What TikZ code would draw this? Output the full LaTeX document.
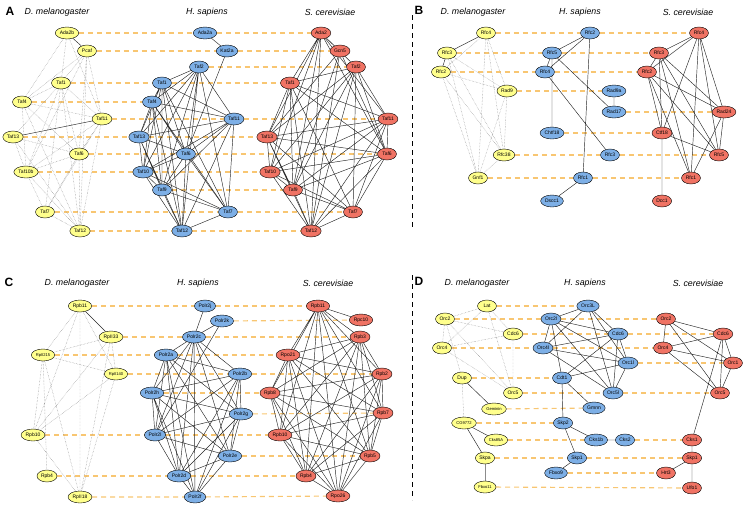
\documentclass[tikz,border=0pt]{standalone}
\usepackage{fontspec}
\setsansfont{Liberation Sans}
\usetikzlibrary{shapes.geometric, backgrounds}

\definecolor{flyfill}{RGB}{255,255,140}
\definecolor{hsfill}{RGB}{125,175,230}
\definecolor{scfill}{RGB}{240,115,100}
\definecolor{orthoclr}{RGB}{248,198,114}

\begin{document}
\begin{tikzpicture}[x=1pt, y=-1pt,
    prot/.style={draw, ellipse, line width=0.4pt, inner sep=1.1pt,
                 minimum width=19pt, minimum height=12pt,
                 font=\fontsize{5}{5.5}\selectfont\sffamily},
    fly/.style={prot, fill=flyfill},
    hs/.style={prot, fill=hsfill},
    sc/.style={prot, fill=scfill},
    small/.style={font=\fontsize{4.1}{4.5}\selectfont\sffamily},
    ppi/.style={line width=0.45pt, black!85},
    weak/.style={densely dotted, line width=0.45pt, black!45},
    ortho/.style={draw=orthoclr, line width=1.15pt, dash pattern=on 5pt off 4pt},
    species/.style={font=\fontsize{8.8}{10}\selectfont\sffamily\itshape},
    panel/.style={font=\fontsize{12}{14}\selectfont\sffamily\bfseries},
    sep/.style={line width=0.8pt, dash pattern=on 5pt off 4pt},
]
\useasboundingbox (0,0) rectangle (748,507);

% --- Panel A: titles ---
\node[panel] (labA) at (10,11) {A};
\node[species] (titAdm) at (57,12) {D. melanogaster};
\node[species] (titAhs) at (207,12) {H. sapiens};
\node[species] (titAsc) at (330,12) {S. cerevisiae};

% --- Panel A: nodes ---
\node[fly] (dmAda2b) at (67,33) {Ada2b};
\node[fly] (dmPcaf) at (87,51) {Pcaf};
\node[fly] (dmTaf1) at (61,83) {Taf1};
\node[fly] (dmTaf4) at (22,102) {Taf4};
\node[fly] (dmTaf11) at (102,119) {Taf11};
\node[fly] (dmTaf13) at (13,137) {Taf13};
\node[fly] (dmTaf6) at (79,154) {Taf6};
\node[fly] (dmTaf10b) at (26,172) {Taf10b};
\node[fly] (dmTaf7) at (45,212) {Taf7};
\node[fly] (dmTaf12) at (80,231) {Taf12};

\node[hs] (hsAda2a) at (205,33) {Ada2a};
\node[hs] (hsKat2a) at (227,51) {Kat2a};
\node[hs] (hsTaf2) at (199,67) {Taf2};
\node[hs] (hsTaf1) at (162,83) {Taf1};
\node[hs] (hsTaf4) at (152,102) {Taf4};
\node[hs] (hsTaf11) at (234,119) {Taf11};
\node[hs] (hsTaf13) at (139,137) {Taf13};
\node[hs] (hsTaf6) at (186,154) {Taf6};
\node[hs] (hsTaf10) at (143,172) {Taf10};
\node[hs] (hsTaf9) at (162,190) {Taf9};
\node[hs] (hsTaf7) at (228,212) {Taf7};
\node[hs] (hsTaf12) at (182,231) {Taf12};

\node[sc] (scAda2) at (321,33) {Ada2};
\node[sc] (scGcn5) at (340,51) {Gcn5};
\node[sc] (scTaf2) at (356,67) {Taf2};
\node[sc] (scTaf1) at (290,83) {Taf1};
\node[sc] (scTaf11) at (388,119) {Taf11};
\node[sc] (scTaf13) at (267,137) {Taf13};
\node[sc] (scTaf6) at (387,154) {Taf6};
\node[sc] (scTaf10) at (270,172) {Taf10};
\node[sc] (scTaf9) at (293,190) {Taf9};
\node[sc] (scTaf7) at (353,212) {Taf7};
\node[sc] (scTaf12) at (311,231) {Taf12};

% --- Panel B: titles ---
\node[panel] (labB) at (419,10) {B};
\node[species] (titBdm) at (473,12) {D. melanogaster};
\node[species] (titBhs) at (580,12) {H. sapiens};
\node[species] (titBsc) at (688,12) {S. cerevisiae};

% --- Panel B: nodes ---
\node[fly] (dmRfc4) at (486,33) {Rfc4};
\node[fly] (dmRfc3) at (447,53) {Rfc3};
\node[fly] (dmRfc2) at (441,72) {Rfc2};
\node[fly] (dmRad9) at (507,91) {Rad9};
\node[fly] (dmRfc38) at (504,155) {Rfc38};
\node[fly] (dmGnf1) at (478,178) {Gnf1};

\node[hs] (hsRfc2) at (590,33) {Rfc2};
\node[hs] (hsRfc5) at (552,53) {Rfc5};
\node[hs] (hsRfc4) at (545,72) {Rfc4};
\node[hs] (hsRad9a) at (614,91) {Rad9a};
\node[hs] (hsRad17) at (614,112) {Rad17};
\node[hs] (hsChtf18) at (552,133) {Chtf18};
\node[hs] (hsRfc3) at (610,155) {Rfc3};
\node[hs] (hsRfc1) at (583,178) {Rfc1};
\node[hs] (hsDscc1) at (552,201) {Dscc1};

\node[sc] (scRfc4) at (699,33) {Rfc4};
\node[sc] (scRfc3) at (659,53) {Rfc3};
\node[sc] (scRfc2) at (647,72) {Rfc2};
\node[sc] (scRad24) at (724,112) {Rad24};
\node[sc] (scCtf18) at (662,133) {Ctf18};
\node[sc] (scRfc5) at (719,155) {Rfc5};
\node[sc] (scRfc1) at (691,178) {Rfc1};
\node[sc] (scDcc1) at (662,201) {Dcc1};

% --- Panel C: titles ---
\node[panel] (labC) at (9,282) {C};
\node[species] (titCdm) at (77,283) {D. melanogaster};
\node[species] (titChs) at (198,283) {H. sapiens};
\node[species] (titCsc) at (328,283) {S. cerevisiae};

% --- Panel C: nodes ---
\node[fly] (dmRpb11) at (80,306) {Rpb11};
\node[fly] (dmRpII33) at (111,337) {RpII33};
\node[fly, small] (dmRpII215) at (43,355) {RpII215};
\node[fly, small] (dmRpII140) at (116,374) {RpII140};
\node[fly] (dmRpb10) at (33,435) {Rpb10};
\node[fly] (dmRpb4) at (47,476) {Rpb4};
\node[fly] (dmRpII18) at (80,497) {RpII18};

\node[hs] (hsPolr2j) at (205,306) {Polr2j};
\node[hs] (hsPolr2k) at (222,321) {Polr2k};
\node[hs] (hsPolr2c) at (194,337) {Polr2c};
\node[hs] (hsPolr2a) at (166,355) {Polr2a};
\node[hs] (hsPolr2b) at (240,374) {Polr2b};
\node[hs] (hsPolr2h) at (152,393) {Polr2h};
\node[hs] (hsPolr2g) at (241,414) {Polr2g};
\node[hs] (hsPolr2l) at (155,435) {Polr2l};
\node[hs] (hsPolr2e) at (230,456) {Polr2e};
\node[hs] (hsPolr2d) at (179,476) {Polr2d};
\node[hs] (hsPolr2f) at (195,497) {Polr2f};

\node[sc] (scRpb11) at (318,306) {Rpb11};
\node[sc] (scRpc10) at (361,320) {Rpc10};
\node[sc] (scRpb3) at (360,337) {Rpb3};
\node[sc] (scRpo21) at (288,355) {Rpo21};
\node[sc] (scRpb2) at (382,374) {Rpb2};
\node[sc] (scRpb8) at (270,393) {Rpb8};
\node[sc] (scRpb7) at (383,413) {Rpb7};
\node[sc] (scRpb10) at (280,435) {Rpb10};
\node[sc] (scRpb5) at (370,456) {Rpb5};
\node[sc] (scRpb4) at (306,476) {Rpb4};
\node[sc] (scRpo26) at (338,496) {Rpo26};

% --- Panel D: titles ---
\node[panel] (labD) at (419,281) {D};
\node[species] (titDdm) at (477,283) {D. melanogaster};
\node[species] (titDhs) at (585,283) {H. sapiens};
\node[species] (titDsc) at (698,283) {S. cerevisiae};

% --- Panel D: nodes ---
\node[fly] (dmLat) at (487,306) {Lat};
\node[fly] (dmOrc2) at (445,319) {Orc2};
\node[fly] (dmCdc6) at (513,334) {Cdc6};
\node[fly] (dmOrc4) at (442,348) {Orc4};
\node[fly] (dmDup) at (462,378) {Dup};
\node[fly] (dmOrc5) at (513,393) {Orc5};
\node[fly, small] (dmGeminin) at (494,409) {Geminin};
\node[fly, small] (dmCG9772) at (464,423) {CG9772};
\node[fly, small] (dmCks85A) at (496,440) {Cks85A};
\node[fly] (dmSkpa) at (485,458) {Skpa};
\node[fly, small] (dmFbxo11) at (485,487) {Fbxo11};

\node[hs] (hsOrc3L) at (588,306) {Orc3L};
\node[hs] (hsOrc2l) at (551,319) {Orc2l};
\node[hs] (hsCdc6) at (618,334) {Cdc6};
\node[hs] (hsOrc4l) at (543,348) {Orc4l};
\node[hs] (hsOrc1l) at (628,363) {Orc1l};
\node[hs] (hsCdt1) at (562,378) {Cdt1};
\node[hs] (hsOrc5l) at (613,393) {Orc5l};
\node[hs] (hsGmnn) at (594,408) {Gmnn};
\node[hs] (hsSkp2) at (563,423) {Skp2};
\node[hs] (hsCks1b) at (596,440) {Cks1b};
\node[hs] (hsCks2) at (625,440) {Cks2};
\node[hs] (hsSkp1) at (577,458) {Skp1};
\node[hs] (hsFbxo9) at (556,473) {Fbxo9};

\node[sc] (scOrc2) at (666,319) {Orc2};
\node[sc] (scCdc6) at (723,334) {Cdc6};
\node[sc] (scOrc4) at (663,348) {Orc4};
\node[sc] (scOrc1) at (733,363) {Orc1};
\node[sc] (scOrc5) at (720,393) {Orc5};
\node[sc] (scCks1) at (692,440) {Cks1};
\node[sc] (scSkp1) at (692,458) {Skp1};
\node[sc] (scHrt3) at (666,473) {Hrt3};
\node[sc] (scUfo1) at (692,488) {Ufo1};

% --- Separators ---
\coordinate (sepTop1) at (412,15);
\coordinate (sepTop2) at (412,228);
\coordinate (sepBot1) at (412,275);
\coordinate (sepBot2) at (412,500);
\draw[sep] (sepTop1) -- (sepTop2);
\draw[sep] (sepBot1) -- (sepBot2);

\begin{pgfonlayer}{background}
% --- Orthologue rows ---
\draw[ortho] (dmAda2b) -- (hsAda2a) -- (scAda2);
\draw[ortho] (dmPcaf) -- (hsKat2a) -- (scGcn5);
\draw[ortho] (hsTaf2) -- (scTaf2);
\draw[ortho] (dmTaf1) -- (hsTaf1) -- (scTaf1);
\draw[ortho] (dmTaf4) -- (hsTaf4);
\draw[ortho] (dmTaf11) -- (hsTaf11) -- (scTaf11);
\draw[ortho] (dmTaf13) -- (hsTaf13) -- (scTaf13);
\draw[ortho] (dmTaf6) -- (hsTaf6) -- (scTaf6);
\draw[ortho] (dmTaf10b) -- (hsTaf10) -- (scTaf10);
\draw[ortho] (hsTaf9) -- (scTaf9);
\draw[ortho] (dmTaf7) -- (hsTaf7) -- (scTaf7);
\draw[ortho] (dmTaf12) -- (hsTaf12) -- (scTaf12);

\draw[ortho] (dmRfc4) -- (hsRfc2) -- (scRfc4);
\draw[ortho] (dmRfc3) -- (hsRfc5) -- (scRfc3);
\draw[ortho] (dmRfc2) -- (hsRfc4) -- (scRfc2);
\draw[ortho] (dmRad9) -- (hsRad9a);
\draw[ortho] (hsRad17) -- (scRad24);
\draw[ortho] (hsChtf18) -- (scCtf18);
\draw[ortho] (dmRfc38) -- (hsRfc3) -- (scRfc5);
\draw[ortho] (dmGnf1) -- (hsRfc1) -- (scRfc1);

\draw[ortho] (dmRpb11) -- (hsPolr2j) -- (scRpb11);
\draw[ortho] (hsPolr2k) -- (scRpc10);
\draw[ortho] (dmRpII33) -- (hsPolr2c) -- (scRpb3);
\draw[ortho] (dmRpII215) -- (hsPolr2a) -- (scRpo21);
\draw[ortho] (dmRpII140) -- (hsPolr2b) -- (scRpb2);
\draw[ortho] (hsPolr2h) -- (scRpb8);
\draw[ortho] (hsPolr2g) -- (scRpb7);
\draw[ortho] (dmRpb10) -- (hsPolr2l) -- (scRpb10);
\draw[ortho] (hsPolr2e) -- (scRpb5);
\draw[ortho] (dmRpb4) -- (hsPolr2d) -- (scRpb4);
\draw[ortho] (dmRpII18) -- (hsPolr2f) -- (scRpo26);

\draw[ortho] (dmLat) -- (hsOrc3L);
\draw[ortho] (dmOrc2) -- (hsOrc2l) -- (scOrc2);
\draw[ortho] (dmCdc6) -- (hsCdc6) -- (scCdc6);
\draw[ortho] (dmOrc4) -- (hsOrc4l) -- (scOrc4);
\draw[ortho] (hsOrc1l) -- (scOrc1);
\draw[ortho] (dmDup) -- (hsCdt1);
\draw[ortho] (dmOrc5) -- (hsOrc5l) -- (scOrc5);
\draw[ortho] (dmGeminin) -- (hsGmnn);
\draw[ortho] (dmCG9772) -- (hsSkp2);
\draw[ortho] (dmCks85A) -- (hsCks1b);
\draw[ortho] (hsCks2) -- (scCks1);
\draw[ortho] (dmSkpa) -- (hsSkp1) -- (scSkp1);
\draw[ortho] (hsFbxo9) -- (scHrt3);
\draw[ortho] (dmFbxo11) -- (scUfo1);

% --- A: fly interactions ---
\draw[weak] (dmAda2b) -- (dmTaf4) (dmAda2b) -- (dmTaf1) (dmAda2b) -- (dmTaf11);
\draw[weak] (dmPcaf) -- (dmTaf4) (dmPcaf) -- (dmTaf1) (dmPcaf) -- (dmTaf6)
    (dmPcaf) -- (dmTaf12) (dmPcaf) -- (dmTaf10b) (dmPcaf) -- (dmTaf11);
\draw[weak] (dmTaf1) -- (dmTaf4) (dmTaf1) -- (dmTaf11) (dmTaf1) -- (dmTaf13)
    (dmTaf1) -- (dmTaf10b) (dmTaf1) -- (dmTaf6) (dmTaf1) -- (dmTaf12) (dmTaf1) -- (dmTaf7);
\draw[weak] (dmTaf4) -- (dmTaf11) (dmTaf4) -- (dmTaf6) (dmTaf4) -- (dmTaf10b) (dmTaf4) -- (dmTaf12);
\draw[weak] (dmTaf11) -- (dmTaf10b) (dmTaf11) -- (dmTaf12) (dmTaf11) -- (dmTaf7) (dmTaf11) -- (dmTaf6);
\draw[weak] (dmTaf13) -- (dmTaf6) (dmTaf13) -- (dmTaf10b) (dmTaf13) -- (dmTaf12);
\draw[weak] (dmTaf6) -- (dmTaf10b) (dmTaf6) -- (dmTaf12) (dmTaf6) -- (dmTaf7);
\draw[weak] (dmTaf10b) -- (dmTaf7) (dmTaf10b) -- (dmTaf12) (dmTaf7) -- (dmTaf12);
\draw[ppi] (dmAda2b) -- (dmPcaf) (dmTaf13) -- (dmTaf11);

% --- A: human interactions ---
\draw[ppi] (hsAda2a) -- (hsKat2a) (hsKat2a) -- (hsTaf6);
\draw[ppi] (hsTaf2) -- (hsTaf1) (hsTaf2) -- (hsTaf4) (hsTaf2) -- (hsTaf11) (hsTaf2) -- (hsTaf13)
    (hsTaf2) -- (hsTaf6) (hsTaf2) -- (hsTaf10) (hsTaf2) -- (hsTaf9) (hsTaf2) -- (hsTaf7) (hsTaf2) -- (hsTaf12);
\draw[ppi] (hsTaf1) -- (hsTaf4) (hsTaf1) -- (hsTaf11) (hsTaf1) -- (hsTaf13) (hsTaf1) -- (hsTaf6)
    (hsTaf1) -- (hsTaf10) (hsTaf1) -- (hsTaf9) (hsTaf1) -- (hsTaf7) (hsTaf1) -- (hsTaf12);
\draw[ppi] (hsTaf4) -- (hsTaf11) (hsTaf4) -- (hsTaf13) (hsTaf4) -- (hsTaf6) (hsTaf4) -- (hsTaf10)
    (hsTaf4) -- (hsTaf9) (hsTaf4) -- (hsTaf7) (hsTaf4) -- (hsTaf12);
\draw[ppi] (hsTaf11) -- (hsTaf13) (hsTaf11) -- (hsTaf6) (hsTaf11) -- (hsTaf10) (hsTaf11) -- (hsTaf9)
    (hsTaf11) -- (hsTaf7) (hsTaf11) -- (hsTaf12);
\draw[ppi] (hsTaf13) -- (hsTaf6) (hsTaf13) -- (hsTaf10) (hsTaf13) -- (hsTaf9) (hsTaf13) -- (hsTaf12);
\draw[ppi] (hsTaf6) -- (hsTaf10) (hsTaf6) -- (hsTaf9) (hsTaf6) -- (hsTaf7) (hsTaf6) -- (hsTaf12);
\draw[ppi] (hsTaf10) -- (hsTaf9) (hsTaf10) -- (hsTaf7) (hsTaf10) -- (hsTaf12)
    (hsTaf9) -- (hsTaf7) (hsTaf9) -- (hsTaf12) (hsTaf7) -- (hsTaf12);

% --- A: yeast interactions ---
\draw[ppi] (scAda2) -- (scGcn5) (scAda2) -- (scTaf1) (scAda2) -- (scTaf13) (scAda2) -- (scTaf10)
    (scAda2) -- (scTaf9) (scAda2) -- (scTaf12) (scAda2) -- (scTaf6) (scAda2) -- (scTaf11) (scAda2) -- (scTaf2);
\draw[ppi] (scGcn5) -- (scTaf9) (scGcn5) -- (scTaf12) (scGcn5) -- (scTaf13) (scGcn5) -- (scTaf6);
\draw[ppi] (scTaf2) -- (scTaf1) (scTaf2) -- (scTaf11) (scTaf2) -- (scTaf13) (scTaf2) -- (scTaf6)
    (scTaf2) -- (scTaf10) (scTaf2) -- (scTaf9) (scTaf2) -- (scTaf7) (scTaf2) -- (scTaf12);
\draw[ppi] (scTaf1) -- (scTaf11) (scTaf1) -- (scTaf13) (scTaf1) -- (scTaf6) (scTaf1) -- (scTaf10)
    (scTaf1) -- (scTaf9) (scTaf1) -- (scTaf7) (scTaf1) -- (scTaf12);
\draw[ppi] (scTaf11) -- (scTaf13) (scTaf11) -- (scTaf6) (scTaf11) -- (scTaf10) (scTaf11) -- (scTaf9)
    (scTaf11) -- (scTaf7) (scTaf11) -- (scTaf12);
\draw[ppi] (scTaf13) -- (scTaf6) (scTaf13) -- (scTaf10) (scTaf13) -- (scTaf9) (scTaf13) -- (scTaf7)
    (scTaf13) -- (scTaf12);
\draw[ppi] (scTaf6) -- (scTaf10) (scTaf6) -- (scTaf9) (scTaf6) -- (scTaf7) (scTaf6) -- (scTaf12);
\draw[ppi] (scTaf10) -- (scTaf9) (scTaf10) -- (scTaf7) (scTaf10) -- (scTaf12)
    (scTaf9) -- (scTaf7) (scTaf9) -- (scTaf12) (scTaf7) -- (scTaf12);

% --- B: interactions ---
\draw[ppi] (dmRfc4) -- (dmRfc3) (dmRfc3) -- (dmRfc2);
\draw[weak] (dmRfc4) -- (dmRfc2) (dmRfc4) -- (dmRad9) (dmRfc4) -- (dmRfc38) (dmRfc4) -- (dmGnf1)
    (dmRfc3) -- (dmRad9) (dmRfc3) -- (dmRfc38) (dmRfc3) -- (dmGnf1)
    (dmRfc2) -- (dmRad9) (dmRfc2) -- (dmRfc38) (dmRfc2) -- (dmGnf1)
    (dmRad9) -- (dmRfc38) (dmRad9) -- (dmGnf1) (dmRfc38) -- (dmGnf1);
\draw[ppi] (hsRfc2) -- (hsRfc5) (hsRfc2) -- (hsRfc4) (hsRfc2) -- (hsRfc1)
    (hsRfc5) -- (hsRfc4) (hsRfc5) -- (hsChtf18) (hsRfc5) -- (hsRad17) (hsRfc4) -- (hsRfc3)
    (hsRad9a) -- (hsRad17) (hsRfc1) -- (hsDscc1);
\draw[ppi] (scRfc4) -- (scRfc3) (scRfc4) -- (scRfc2) (scRfc4) -- (scRad24) (scRfc4) -- (scCtf18)
    (scRfc4) -- (scRfc5) (scRfc4) -- (scRfc1);
\draw[ppi] (scRfc3) -- (scRfc2) (scRfc3) -- (scRad24) (scRfc3) -- (scCtf18) (scRfc3) -- (scRfc5)
    (scRfc3) -- (scRfc1);
\draw[ppi] (scRfc2) -- (scRad24) (scRfc2) -- (scCtf18) (scRfc2) -- (scRfc5) (scRfc2) -- (scRfc1)
    (scRad24) -- (scRfc5) (scRad24) -- (scRfc1) (scCtf18) -- (scRfc5) (scCtf18) -- (scDcc1);

% --- C: fly interactions ---
\draw[ppi] (dmRpb11) -- (dmRpII33);
\draw[weak] (dmRpb11) -- (dmRpII215) (dmRpb11) -- (dmRpb10) (dmRpb11) -- (dmRpII18) (dmRpb11) -- (dmRpII140)
    (dmRpII33) -- (dmRpII215) (dmRpII33) -- (dmRpII140) (dmRpII33) -- (dmRpb10) (dmRpII33) -- (dmRpII18)
    (dmRpII215) -- (dmRpII140) (dmRpII215) -- (dmRpb10) (dmRpII215) -- (dmRpb4) (dmRpII215) -- (dmRpII18)
    (dmRpII140) -- (dmRpb10) (dmRpII140) -- (dmRpII18) (dmRpb10) -- (dmRpII18);

% --- C: human interactions ---
\draw[ppi] (hsPolr2j) -- (hsPolr2c) (hsPolr2k) -- (hsPolr2c) (hsPolr2k) -- (hsPolr2l);
\draw[ppi] (hsPolr2c) -- (hsPolr2a) (hsPolr2c) -- (hsPolr2b) (hsPolr2c) -- (hsPolr2h) (hsPolr2c) -- (hsPolr2g)
    (hsPolr2c) -- (hsPolr2l) (hsPolr2c) -- (hsPolr2e) (hsPolr2c) -- (hsPolr2d) (hsPolr2c) -- (hsPolr2f);
\draw[ppi] (hsPolr2a) -- (hsPolr2b) (hsPolr2a) -- (hsPolr2h) (hsPolr2a) -- (hsPolr2g) (hsPolr2a) -- (hsPolr2l)
    (hsPolr2a) -- (hsPolr2e) (hsPolr2a) -- (hsPolr2d) (hsPolr2a) -- (hsPolr2f);
\draw[ppi] (hsPolr2b) -- (hsPolr2h) (hsPolr2b) -- (hsPolr2g) (hsPolr2b) -- (hsPolr2l) (hsPolr2b) -- (hsPolr2e)
    (hsPolr2b) -- (hsPolr2d) (hsPolr2b) -- (hsPolr2f);
\draw[ppi] (hsPolr2h) -- (hsPolr2g) (hsPolr2h) -- (hsPolr2l) (hsPolr2h) -- (hsPolr2e) (hsPolr2h) -- (hsPolr2d)
    (hsPolr2h) -- (hsPolr2f);
\draw[ppi] (hsPolr2g) -- (hsPolr2l) (hsPolr2g) -- (hsPolr2e) (hsPolr2g) -- (hsPolr2d) (hsPolr2g) -- (hsPolr2f)
    (hsPolr2l) -- (hsPolr2e) (hsPolr2l) -- (hsPolr2d) (hsPolr2e) -- (hsPolr2d) (hsPolr2e) -- (hsPolr2f)
    (hsPolr2d) -- (hsPolr2f);

% --- C: yeast interactions ---
\draw[ppi] (scRpc10) -- (scRpb11);
\draw[ppi] (scRpb11) -- (scRpb3) (scRpb11) -- (scRpo21) (scRpb11) -- (scRpb2) (scRpb11) -- (scRpb8)
    (scRpb11) -- (scRpb7) (scRpb11) -- (scRpb10) (scRpb11) -- (scRpb5) (scRpb11) -- (scRpb4) (scRpb11) -- (scRpo26);
\draw[ppi] (scRpb3) -- (scRpo21) (scRpb3) -- (scRpb2) (scRpb3) -- (scRpb8) (scRpb3) -- (scRpb7)
    (scRpb3) -- (scRpb10) (scRpb3) -- (scRpb5) (scRpb3) -- (scRpb4) (scRpb3) -- (scRpo26);
\draw[ppi] (scRpo21) -- (scRpb2) (scRpo21) -- (scRpb8) (scRpo21) -- (scRpb7) (scRpo21) -- (scRpb10)
    (scRpo21) -- (scRpb5) (scRpo21) -- (scRpb4) (scRpo21) -- (scRpo26);
\draw[ppi] (scRpb2) -- (scRpb8) (scRpb2) -- (scRpb7) (scRpb2) -- (scRpb10) (scRpb2) -- (scRpb5)
    (scRpb2) -- (scRpb4) (scRpb2) -- (scRpo26);
\draw[ppi] (scRpb8) -- (scRpb7) (scRpb8) -- (scRpb10) (scRpb8) -- (scRpb5) (scRpb8) -- (scRpb4)
    (scRpb8) -- (scRpo26);
\draw[ppi] (scRpb7) -- (scRpb10) (scRpb7) -- (scRpb5) (scRpb7) -- (scRpb4) (scRpb7) -- (scRpo26)
    (scRpb10) -- (scRpb5) (scRpb10) -- (scRpb4) (scRpb10) -- (scRpo26)
    (scRpb5) -- (scRpb4) (scRpb5) -- (scRpo26) (scRpb4) -- (scRpo26);

% --- D: interactions ---
\draw[weak] (dmLat) -- (dmOrc2) (dmLat) -- (dmOrc4) (dmLat) -- (dmCdc6) (dmLat) -- (dmOrc5)
    (dmOrc2) -- (dmCdc6) (dmOrc2) -- (dmOrc4) (dmOrc2) -- (dmOrc5) (dmOrc2) -- (dmDup)
    (dmOrc4) -- (dmCdc6) (dmOrc4) -- (dmOrc5) (dmCdc6) -- (dmOrc5) (dmDup) -- (dmCG9772);
\draw[ppi] (dmDup) -- (dmGeminin) (dmCG9772) -- (dmCks85A) (dmCG9772) -- (dmSkpa);
\draw[ppi, black!45, line width=1pt] (dmSkpa) -- (dmFbxo11);

\draw[ppi] (hsOrc3L) -- (hsOrc2l) (hsOrc3L) -- (hsCdc6) (hsOrc3L) -- (hsOrc1l) (hsOrc3L) -- (hsOrc5l)
    (hsOrc3L) -- (hsOrc4l);
\draw[ppi] (hsOrc2l) -- (hsCdc6) (hsOrc2l) -- (hsOrc4l) (hsOrc2l) -- (hsOrc1l) (hsOrc2l) -- (hsOrc5l)
    (hsOrc2l) -- (hsCdt1);
\draw[ppi] (hsCdc6) -- (hsOrc4l) (hsCdc6) -- (hsOrc1l) (hsCdc6) -- (hsOrc5l) (hsCdc6) -- (hsCdt1)
    (hsOrc4l) -- (hsOrc1l) (hsOrc4l) -- (hsOrc5l) (hsOrc1l) -- (hsOrc5l) (hsOrc1l) -- (hsCdt1);
\draw[ppi] (hsCdt1) -- (hsGmnn) (hsCdt1) -- (hsSkp2) (hsSkp2) -- (hsCks1b) (hsSkp2) -- (hsSkp1)
    (hsCks1b) -- (hsCks2) (hsSkp1) -- (hsFbxo9);

\draw[ppi] (scOrc2) -- (scCdc6) (scOrc2) -- (scOrc4) (scOrc2) -- (scOrc1) (scOrc2) -- (scOrc5)
    (scCdc6) -- (scOrc4) (scCdc6) -- (scOrc1) (scCdc6) -- (scOrc5) (scCdc6) -- (scCks1)
    (scOrc4) -- (scOrc1) (scOrc4) -- (scOrc5) (scOrc1) -- (scOrc5);
\draw[ppi] (scCks1) -- (scSkp1) (scSkp1) -- (scHrt3) (scSkp1) -- (scUfo1);
\end{pgfonlayer}
\end{tikzpicture}
\end{document}
